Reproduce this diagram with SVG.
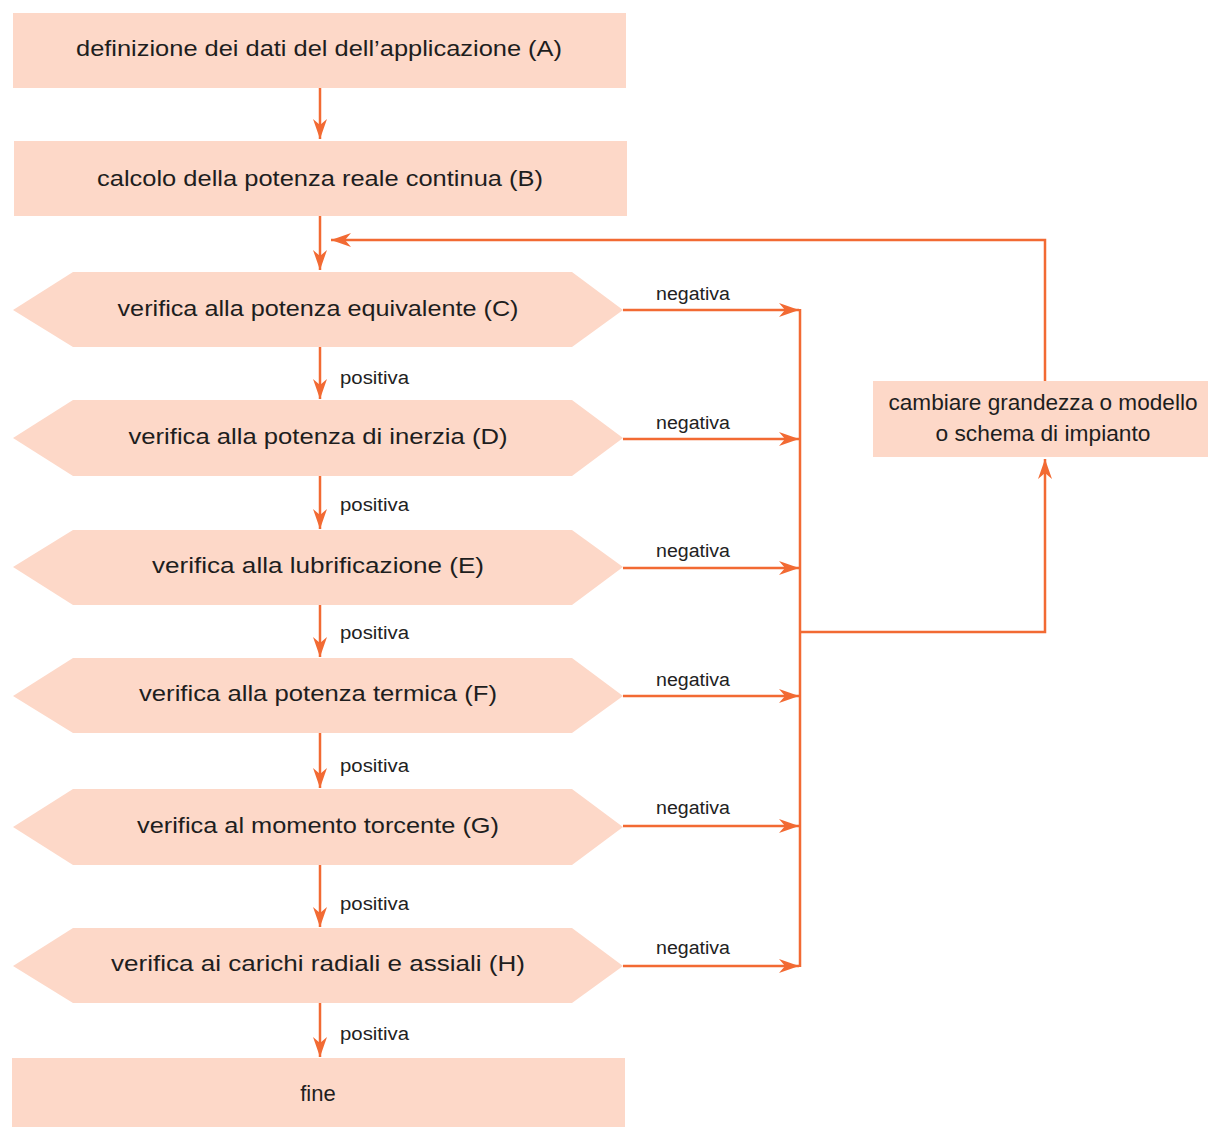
<svg xmlns="http://www.w3.org/2000/svg" width="1208" height="1127" viewBox="0 0 1208 1127">
<style>
.box{fill:#FDD8C8;}
.t{font-family:"Liberation Sans","DejaVu Sans",sans-serif;font-size:22px;fill:#1e1e1e;text-anchor:middle;}
.l{font-family:"Liberation Sans","DejaVu Sans",sans-serif;font-size:18px;fill:#222;}
.c{fill:none;stroke:#F26A33;stroke-width:2.5;}
</style>
<defs>
<marker id="ah" markerUnits="userSpaceOnUse" markerWidth="22" markerHeight="14" refX="20" refY="7" orient="auto">
<path d="M0,0 L20,7 L0,14 L6,7 z" fill="#F26A33"/>
</marker>
</defs>
<rect width="1208" height="1127" fill="#fff"/>

<g id="connectors">
<path class="c" d="M320,88 V139" marker-end="url(#ah)"/>
<path class="c" d="M320,216 V270" marker-end="url(#ah)"/>
<path class="c" d="M320,347 V399" marker-end="url(#ah)"/>
<path class="c" d="M320,476 V529" marker-end="url(#ah)"/>
<path class="c" d="M320,605 V657" marker-end="url(#ah)"/>
<path class="c" d="M320,733 V788" marker-end="url(#ah)"/>
<path class="c" d="M320,865 V927" marker-end="url(#ah)"/>
<path class="c" d="M320,1003 V1057" marker-end="url(#ah)"/>
<path class="c" d="M623,310 H799" marker-end="url(#ah)"/>
<path class="c" d="M623,439 H799" marker-end="url(#ah)"/>
<path class="c" d="M623,568 H799" marker-end="url(#ah)"/>
<path class="c" d="M623,696 H799" marker-end="url(#ah)"/>
<path class="c" d="M623,826 H799" marker-end="url(#ah)"/>
<path class="c" d="M623,966 H799" marker-end="url(#ah)"/>
<path class="c" d="M800,309 V967"/>
<path class="c" d="M800,632 H1045 V459" marker-end="url(#ah)"/>
<path class="c" d="M1045,381 V240 H331" marker-end="url(#ah)"/>
<text class="l" x="340" y="384" textLength="69" lengthAdjust="spacingAndGlyphs">positiva</text>
<text class="l" x="340" y="511" textLength="69" lengthAdjust="spacingAndGlyphs">positiva</text>
<text class="l" x="340" y="639" textLength="69" lengthAdjust="spacingAndGlyphs">positiva</text>
<text class="l" x="340" y="772" textLength="69" lengthAdjust="spacingAndGlyphs">positiva</text>
<text class="l" x="340" y="910" textLength="69" lengthAdjust="spacingAndGlyphs">positiva</text>
<text class="l" x="340" y="1040" textLength="69" lengthAdjust="spacingAndGlyphs">positiva</text>
<text class="l" x="656" y="300" textLength="74" lengthAdjust="spacingAndGlyphs">negativa</text>
<text class="l" x="656" y="429" textLength="74" lengthAdjust="spacingAndGlyphs">negativa</text>
<text class="l" x="656" y="557" textLength="74" lengthAdjust="spacingAndGlyphs">negativa</text>
<text class="l" x="656" y="686" textLength="74" lengthAdjust="spacingAndGlyphs">negativa</text>
<text class="l" x="656" y="814" textLength="74" lengthAdjust="spacingAndGlyphs">negativa</text>
<text class="l" x="656" y="954" textLength="74" lengthAdjust="spacingAndGlyphs">negativa</text>
</g>

<g id="nodeA">
<rect class="box" x="13" y="13" width="613" height="75"/>
<text class="t" x="319" y="56" textLength="486" lengthAdjust="spacingAndGlyphs">definizione dei dati del dell’applicazione (A)</text>
</g>
<g id="nodeB">
<rect class="box" x="14" y="141" width="613" height="75"/>
<text class="t" x="320" y="186" textLength="446" lengthAdjust="spacingAndGlyphs">calcolo della potenza reale continua (B)</text>
</g>
<g id="nodeC">
<polygon class="box" points="13,310 73,272 572,272 623,310 572,347 73,347"/>
<text class="t" x="318" y="316" textLength="401" lengthAdjust="spacingAndGlyphs">verifica alla potenza equivalente (C)</text>
</g>
<g id="nodeD">
<polygon class="box" points="13,438 73,400 572,400 623,438 572,476 73,476"/>
<text class="t" x="318" y="444" textLength="379" lengthAdjust="spacingAndGlyphs">verifica alla potenza di inerzia (D)</text>
</g>
<g id="nodeE">
<polygon class="box" points="13,567 73,530 572,530 623,567 572,605 73,605"/>
<text class="t" x="318" y="573" textLength="332" lengthAdjust="spacingAndGlyphs">verifica alla lubrificazione (E)</text>
</g>
<g id="nodeF">
<polygon class="box" points="13,696 73,658 572,658 623,696 572,733 73,733"/>
<text class="t" x="318" y="701" textLength="358" lengthAdjust="spacingAndGlyphs">verifica alla potenza termica (F)</text>
</g>
<g id="nodeG">
<polygon class="box" points="13,827 73,789 572,789 623,827 572,865 73,865"/>
<text class="t" x="318" y="833" textLength="362" lengthAdjust="spacingAndGlyphs">verifica al momento torcente (G)</text>
</g>
<g id="nodeH">
<polygon class="box" points="13,966 73,928 572,928 623,966 572,1003 73,1003"/>
<text class="t" x="318" y="971" textLength="414" lengthAdjust="spacingAndGlyphs">verifica ai carichi radiali e assiali (H)</text>
</g>
<g id="nodeFine">
<rect class="box" x="12" y="1058" width="613" height="69"/>
<text class="t" x="318" y="1101">fine</text>
</g>
<g id="nodeCambiare">
<rect class="box" x="873" y="381" width="335" height="76"/>
<text class="t" x="1043" y="410" textLength="309" lengthAdjust="spacingAndGlyphs">cambiare grandezza o modello</text>
<text class="t" x="1043" y="441" textLength="215" lengthAdjust="spacingAndGlyphs">o schema di impianto</text>
</g>
</svg>
